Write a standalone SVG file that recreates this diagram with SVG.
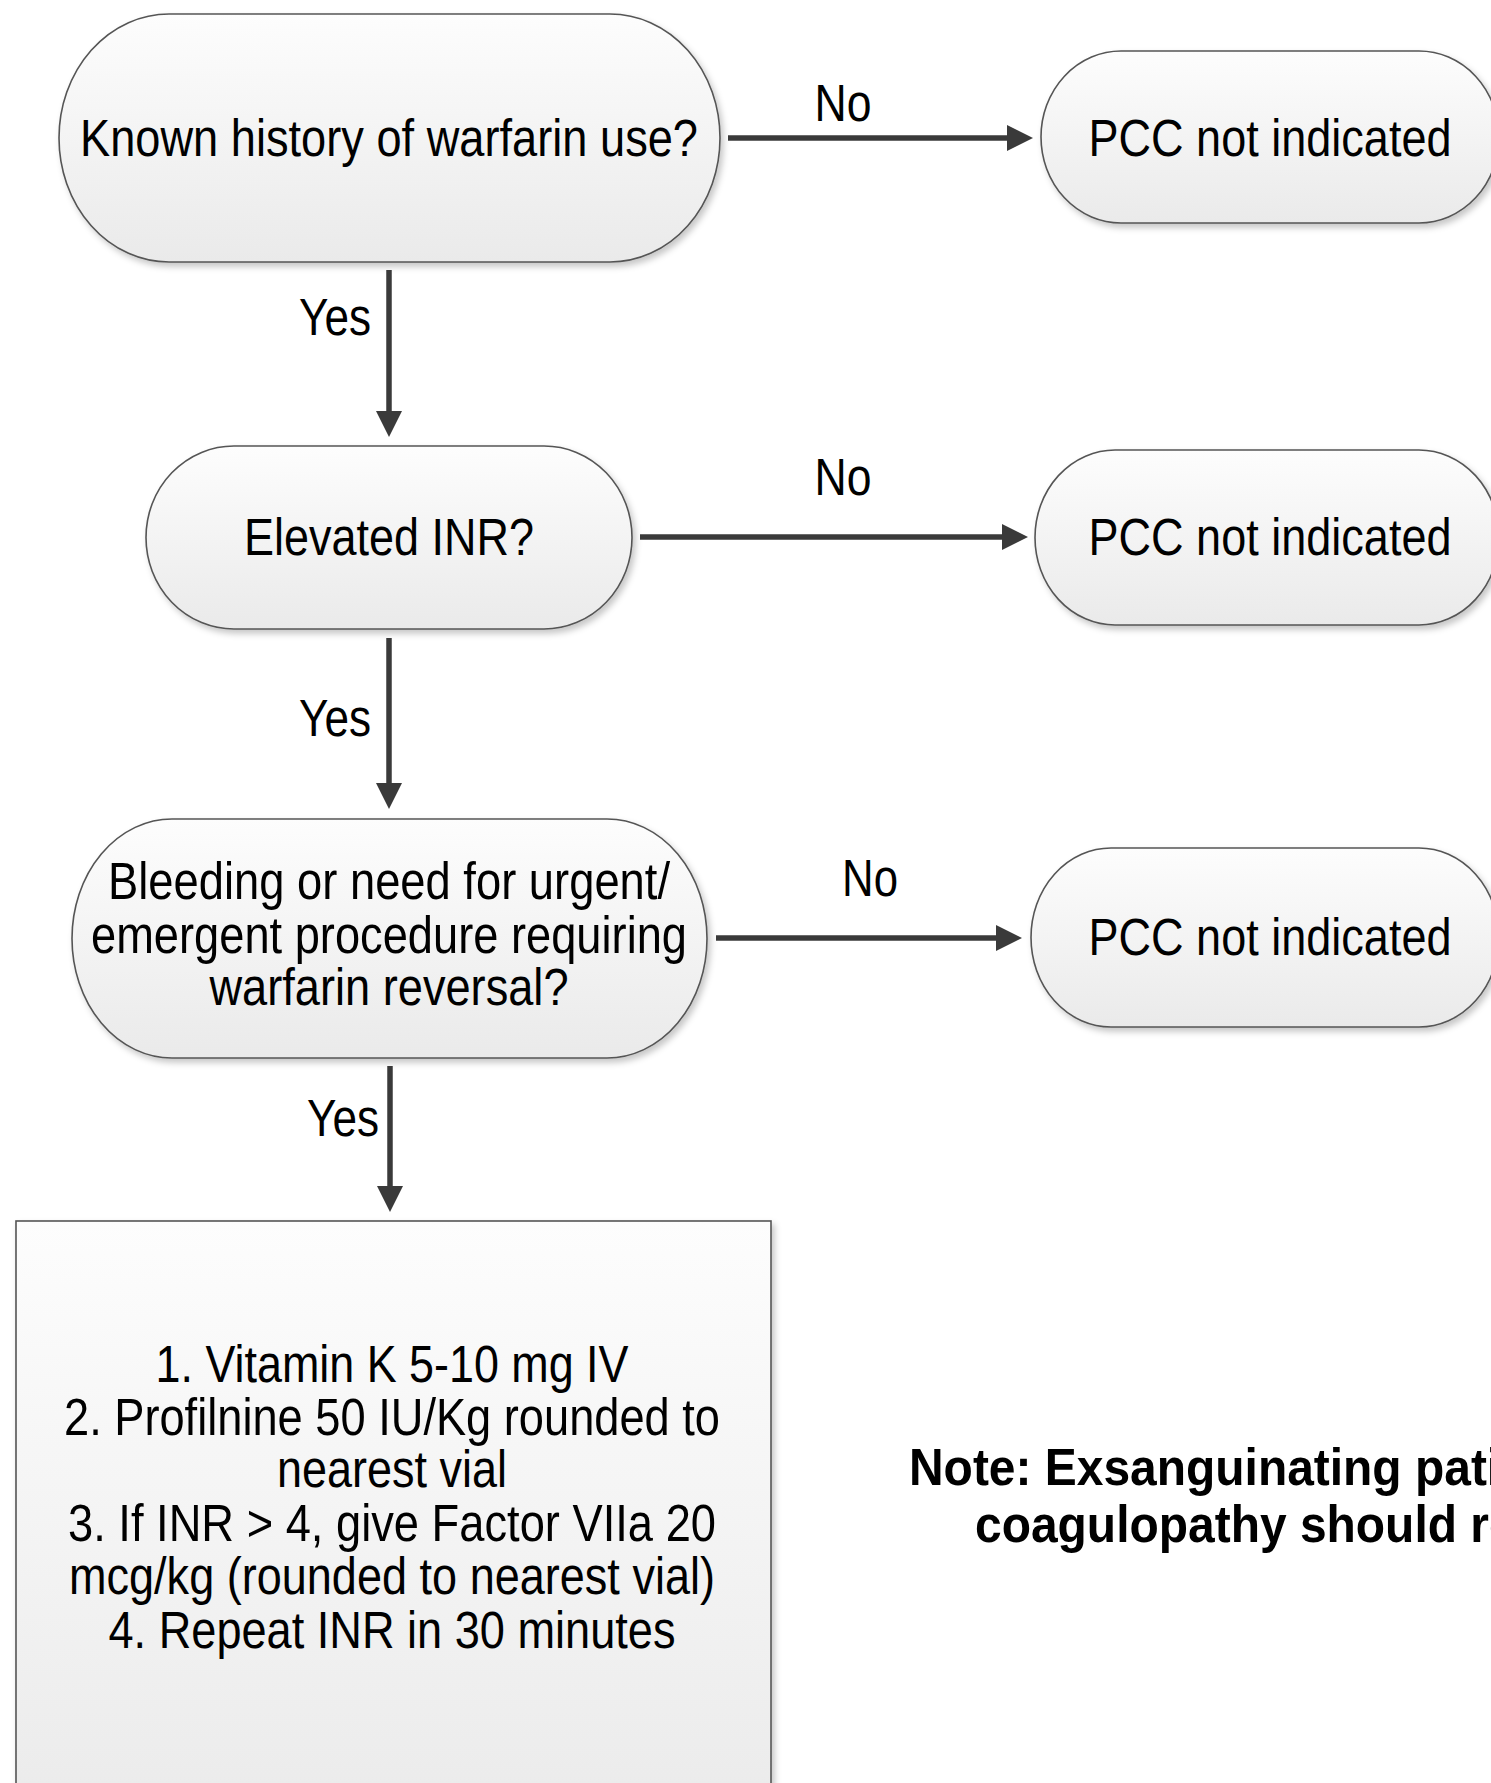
<svg xmlns="http://www.w3.org/2000/svg" width="1491" height="1783" viewBox="0 0 1491 1783">
<style>
.node{fill:url(#g);stroke:#555;stroke-width:1.6;filter:url(#sh)}
.t{font-family:"Liberation Sans",Arial,Helvetica,sans-serif;font-size:51px;fill:#000;text-anchor:middle}
.lbl{font-family:"Liberation Sans",Arial,Helvetica,sans-serif;font-size:51px;fill:#000;text-anchor:middle}
.note{font-family:"Liberation Sans",Arial,Helvetica,sans-serif;font-size:51px;font-weight:bold;fill:#000}
.c{stroke:#3a3a3a;stroke-width:5.5;fill:none;marker-end:url(#ah)}
</style>
<defs>
<linearGradient id="g" x1="0" y1="0" x2="0" y2="1">
<stop offset="0" stop-color="#fdfdfd"/>
<stop offset="1" stop-color="#eaeaea"/>
</linearGradient>
<filter id="sh" x="-10%" y="-10%" width="125%" height="130%">
<feDropShadow dx="3" dy="4" stdDeviation="3" flood-color="#000" flood-opacity="0.22"/>
</filter>
<marker id="ah" markerUnits="userSpaceOnUse" markerWidth="28" markerHeight="28" refX="1" refY="13" orient="auto" viewBox="0 0 28 28">
<path d="M0,0 L26,13 L0,26 z" fill="#3a3a3a"/>
</marker>
</defs>
<rect width="1491" height="1783" fill="#fff"/>

<g id="n1">
<rect class="node" x="59" y="14" width="661" height="248" rx="110" ry="124"/>
<text class="t" x="389" y="156" textLength="618" lengthAdjust="spacingAndGlyphs">Known history of warfarin use?</text>
</g>
<g id="p1">
<rect class="node" x="1041" y="51" width="458" height="172" rx="80" ry="86"/>
<text class="t" x="1270" y="156" textLength="363" lengthAdjust="spacingAndGlyphs">PCC not indicated</text>
</g>
<g id="n2">
<rect class="node" x="146" y="446" width="486" height="183" rx="88" ry="91.5"/>
<text class="t" x="389" y="555" textLength="290" lengthAdjust="spacingAndGlyphs">Elevated INR?</text>
</g>
<g id="p2">
<rect class="node" x="1035" y="450" width="464" height="175" rx="80" ry="87.5"/>
<text class="t" x="1270" y="555" textLength="363" lengthAdjust="spacingAndGlyphs">PCC not indicated</text>
</g>
<g id="n3">
<rect class="node" x="72" y="819" width="635" height="239" rx="100" ry="119.5"/>
<text class="t" x="389" y="899" textLength="562" lengthAdjust="spacingAndGlyphs">Bleeding or need for urgent/</text>
<text class="t" x="389" y="953" textLength="596" lengthAdjust="spacingAndGlyphs">emergent procedure requiring</text>
<text class="t" x="389" y="1005" textLength="359" lengthAdjust="spacingAndGlyphs">warfarin reversal?</text>
</g>
<g id="p3">
<rect class="node" x="1031" y="848" width="468" height="179" rx="80" ry="89.5"/>
<text class="t" x="1270" y="955" textLength="363" lengthAdjust="spacingAndGlyphs">PCC not indicated</text>
</g>
<g id="box">
<rect class="node" x="16" y="1221" width="755" height="620"/>
<text class="t" x="392" y="1382" textLength="473" lengthAdjust="spacingAndGlyphs">1. Vitamin K 5-10 mg IV</text>
<text class="t" x="392" y="1435" textLength="656" lengthAdjust="spacingAndGlyphs">2. Profilnine 50 IU/Kg rounded to</text>
<text class="t" x="392" y="1487" textLength="230" lengthAdjust="spacingAndGlyphs">nearest vial</text>
<text class="t" x="392" y="1541" textLength="648" lengthAdjust="spacingAndGlyphs">3. If INR &gt; 4, give Factor VIIa 20</text>
<text class="t" x="392" y="1594" textLength="646" lengthAdjust="spacingAndGlyphs">mcg/kg (rounded to nearest vial)</text>
<text class="t" x="392" y="1648" textLength="567" lengthAdjust="spacingAndGlyphs">4. Repeat INR in 30 minutes</text>
</g>
<g id="note">
<text class="note" transform="translate(909 1485) scale(0.94 1)">Note: Exsanguinating patients</text>
<text class="note" transform="translate(975 1542) scale(0.94 1)">coagulopathy should receive</text>
</g>

<g id="connectors">
<line class="c" x1="728" y1="138" x2="1008" y2="138"/>
<text class="lbl" x="843" y="121" textLength="57" lengthAdjust="spacingAndGlyphs">No</text>
<line class="c" x1="389" y1="270" x2="389" y2="412"/>
<text class="lbl" x="335" y="335" textLength="72" lengthAdjust="spacingAndGlyphs">Yes</text>
<line class="c" x1="640" y1="537" x2="1003" y2="537"/>
<text class="lbl" x="843" y="495" textLength="57" lengthAdjust="spacingAndGlyphs">No</text>
<line class="c" x1="389" y1="638" x2="389" y2="784"/>
<text class="lbl" x="335" y="736" textLength="72" lengthAdjust="spacingAndGlyphs">Yes</text>
<line class="c" x1="716" y1="938" x2="997" y2="938"/>
<text class="lbl" x="870" y="896" textLength="56" lengthAdjust="spacingAndGlyphs">No</text>
<line class="c" x1="390" y1="1066" x2="390" y2="1187"/>
<text class="lbl" x="343" y="1136" textLength="72" lengthAdjust="spacingAndGlyphs">Yes</text>
</g>
</svg>
